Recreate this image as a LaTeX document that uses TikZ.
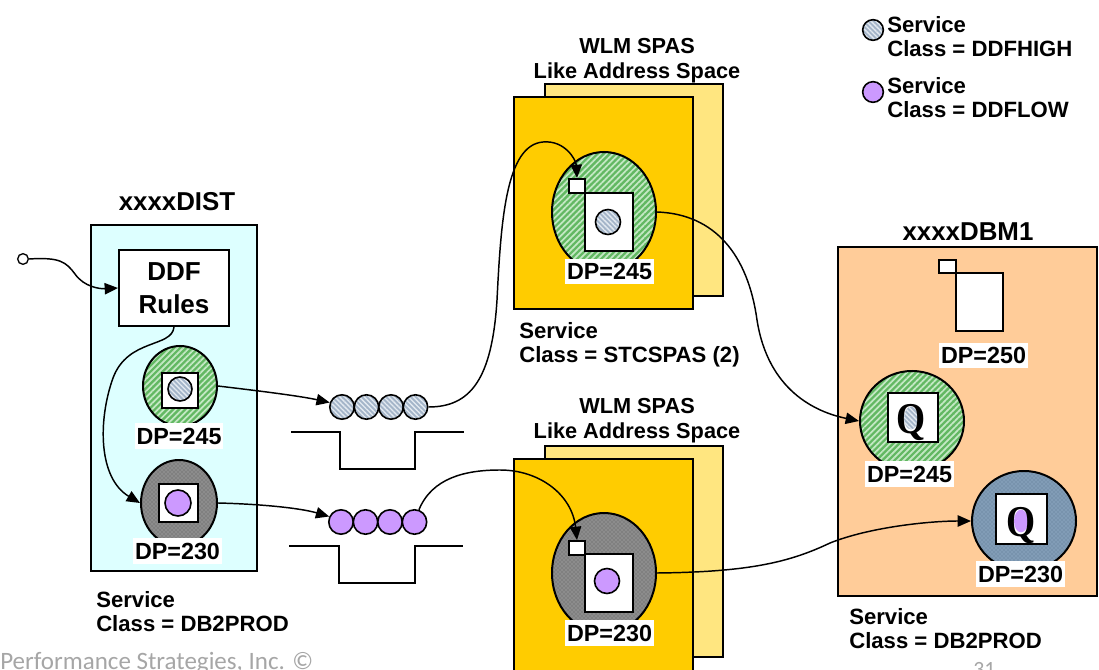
\documentclass[tikz,border=0pt]{standalone}
\usepackage{fontspec}
\setmainfont{Liberation Sans}
\newfontfamily\qfont{Liberation Serif}
\newfontfamily\footfont{Carlito}
\usetikzlibrary{shapes.geometric,arrows.meta,patterns,patterns.meta}

\definecolor{distcyan}{HTML}{DDFFFF}
\definecolor{spasfront}{HTML}{FFCC00}
\definecolor{spasback}{HTML}{FFE680}
\definecolor{dbmpeach}{HTML}{FFCC99}
\definecolor{lowpurple}{HTML}{CC99FF}
\definecolor{hatchgreen}{HTML}{62B862}
\definecolor{hatchgreenlt}{HTML}{C4E8C4}
\definecolor{highblue}{HTML}{A4B5C9}
\definecolor{highbluelt}{HTML}{E4EAF1}
\definecolor{dotgray}{HTML}{8C8C8C}
\definecolor{dotgraydk}{HTML}{5A5A5A}
\definecolor{dotblue}{HTML}{819CB6}
\definecolor{dotbluedk}{HTML}{5C7690}
\definecolor{footgray}{HTML}{A6A6A6}

\tikzset{
  frame/.style={draw, line width=1.5pt},
  sq/.style={draw, line width=1.5pt, fill=white, shape=rectangle, inner sep=0pt},
  ell/.style={draw, line width=1.5pt, shape=ellipse, inner sep=0pt},
  dot/.style={draw, line width=1.2pt, shape=circle, inner sep=0pt},
  greenhatch/.style={preaction={fill=hatchgreen},
    pattern={Lines[angle=45,distance=3.2pt,line width=1.3pt]}, pattern color=hatchgreenlt},
  bluehatch/.style={preaction={fill=highblue},
    pattern={Lines[angle=-45,distance=2.6pt,line width=1pt]}, pattern color=highbluelt},
  graydots/.style={preaction={fill=dotgray}, pattern=crosshatch dots, pattern color=dotgraydk},
  bluedots/.style={preaction={fill=dotblue}, pattern=crosshatch dots, pattern color=dotbluedk},
  hdr/.style={font=\bfseries\fontsize{19.4}{22}\selectfont, inner sep=0pt},
  lbl/.style={font=\bfseries\fontsize{16.6}{18.4}\selectfont, align=left, inner sep=0pt, anchor=north west},
  spastitle/.style={font=\bfseries\fontsize{16.3}{18.75}\selectfont, align=center, inner sep=0pt, anchor=north},
  dp/.style={fill=white, inner xsep=1.5pt, inner ysep=3.5pt, font=\bfseries\fontsize{17.5}{20}\selectfont},
  qglyph/.style={font=\qfont\bfseries\fontsize{33}{33}\selectfont, inner sep=0pt, anchor=base},
  conn/.style={line width=1.1pt, -{Triangle[length=10pt,width=8.5pt]}},
  small/.style={sq, minimum width=12pt, minimum height=10.5pt}
}

\begin{document}
\begin{tikzpicture}[x=0.75pt,y=-0.75pt]
\useasboundingbox (0,0) rectangle (1099,670);
\fill[white] (0,0) rectangle (1099,670);

% legend
\node[dot, bluehatch, minimum size=15.5pt] (keyhigh) at (873,30) {};
\node[lbl] (keyhight) at (887,16) {Service\\Class = DDFHIGH};
\node[dot, fill=lowpurple, minimum size=15.5pt] (keylow) at (873,92) {};
\node[lbl] (keylowt) at (887,77) {Service\\Class = DDFLOW};

% xxxxDIST address space
\node[hdr] (distT) at (177,202) {xxxxDIST};
\draw[frame, fill=distcyan] (91,225) rectangle (257,571);
\node[sq, minimum width=82.5pt, minimum height=57pt, align=center,
      font=\bfseries\fontsize{19.5}{24.75}\selectfont] (rules) at (174,288) {DDF\\Rules};
\node[dot, fill=white, minimum size=8pt, line width=1pt] (src) at (23,259) {};

\node[ell, greenhatch, minimum width=55.5pt, minimum height=60pt] (dhigh) at (180,386) {};
\node[sq, minimum width=27pt, minimum height=26.25pt] (dhighsq) at (180,390) {};
\node[dot, bluehatch, minimum size=18pt] (dhighdot) at (180,389) {};
\node[dp] (dhighdp) at (179,436) {DP=245};

\node[ell, graydots, minimum width=57pt, minimum height=64.5pt] (dlow) at (179,503) {};
\node[sq, minimum width=29.25pt, minimum height=28.5pt] (dlowsq) at (178.5,503) {};
\node[dot, fill=lowpurple, minimum size=19.5pt] (dlowdot) at (178,503) {};
\node[dp] (dlowdp) at (177.5,551) {DP=230};

\node[lbl] (dclass) at (96,591) {Service\\Class = DB2PROD};

% queues
\foreach \i/\x in {1/342,2/366.5,3/391,4/415.5}
  \node[dot, bluehatch, minimum size=18.3pt] (qa\i) at (\x,407) {};
\foreach \i/\x in {1/341,2/365.5,3/390,4/414.5}
  \node[dot, fill=lowpurple, minimum size=18.3pt] (qb\i) at (\x,522) {};
\draw[frame] (291,432) -- (340,432) -- (340,469) -- (415,469) -- (415,432) -- (464,432);
\draw[frame] (289,546) -- (339,546) -- (339,583) -- (415,583) -- (415,546) -- (463,546);

% upper WLM SPAS
\node[spastitle] (stitleA) at (637,38) {WLM SPAS\\Like Address Space};
\draw[frame, fill=spasback] (545,84) rectangle (723,296);
\draw[frame, fill=spasfront] (514,97) rectangle (693,309);
\node[ell, greenhatch, minimum width=78pt, minimum height=90pt] (shigh) at (604,212) {};
\node[sq, minimum width=36pt, minimum height=43.5pt] (shighsq) at (609,222) {};
\node[small] (shighin) at (577,186) {};
\node[dot, bluehatch, minimum size=18.75pt] (shighdot) at (608,222) {};
\node[dp] (shighdp) at (609.5,271.5) {DP=245};
\node[lbl] (sclassA) at (519,322) {Service\\Class = STCSPAS (2)};

% lower WLM SPAS
\node[spastitle] (stitleB) at (637,398) {WLM SPAS\\Like Address Space};
\draw[frame, fill=spasback] (545,446) rectangle (723,657);
\draw[frame, fill=spasfront] (514,459) rectangle (693,700);
\node[ell, graydots, minimum width=78pt, minimum height=90pt] (slow) at (604,573) {};
\node[sq, minimum width=36pt, minimum height=43.5pt] (slowsq) at (609,583) {};
\node[small] (slowin) at (577,548) {};
\node[dot, fill=lowpurple, minimum size=18.75pt] (slowdot) at (607,581) {};
\node[dp] (slowdp) at (609.5,633) {DP=230};

% xxxxDBM1 address space
\node[hdr] (dbmT) at (968,232) {xxxxDBM1};
\draw[frame, fill=dbmpeach] (838,247) rectangle (1097,596);
\node[sq, minimum width=35.25pt, minimum height=43.5pt] (pagesq) at (979.5,302) {};
\node[sq, minimum width=12.75pt, minimum height=9.75pt] (pagein) at (947.5,266.5) {};
\node[dp] (pagedp) at (983.5,355.5) {DP=250};

\node[ell, greenhatch, minimum width=78pt, minimum height=75pt] (bhigh) at (912,421) {};
\node[sq, minimum width=37.5pt, minimum height=36.75pt] (bhighsq) at (913,417.5) {};
\node[ell, bluehatch, draw=none, minimum width=10.5pt, minimum height=17pt] (bhighctr) at (911,418) {};
\node[qglyph] (bhighq) at (911,433) {\scalebox{0.85}[1]{Q}};
\node[dp] (bhighdp) at (909.5,474) {DP=245};

\node[ell, bluedots, minimum width=78pt, minimum height=75pt] (blow) at (1024,521) {};
\node[sq, minimum width=38.25pt, minimum height=37.5pt] (blowsq) at (1021.5,519) {};
\node[ell, fill=lowpurple, draw=none, minimum width=10.5pt, minimum height=17pt] (blowctr) at (1021,521) {};
\node[qglyph] (blowq) at (1021,536) {\scalebox{0.85}[1]{Q}};
\node[dp] (blowdp) at (1020.5,574) {DP=230};

\node[lbl] (bclass) at (849,608) {Service\\Class = DB2PROD};

% connectors
\draw[conn] (src.east) .. controls (60,257) and (66,262) .. (75,274)
            .. controls (84,287) and (100,289) .. (rules.west);
\draw[conn] (rules.south) .. controls (172,348) and (128,338) .. (113,378)
            .. controls (98,420) and (98,478) .. (dlow.west);
\draw[conn] (dhigh.east) .. controls (260,391) and (300,396) .. (qa1.160);
\draw[conn] (dlow.east) .. controls (260,504) and (300,508) .. (qb1.155);
\draw[conn] (qa4.east) .. controls (470,407) and (492,380) .. (497,300)
            .. controls (501,220) and (506,145) .. (543,142)
            .. controls (565,140) and (576,160) .. (shighin.north);
\draw[conn] (qb4.70) .. controls (432,478) and (465,470) .. (500,470)
            .. controls (540,470) and (572,495) .. (slowin.north);
\draw[conn] (shigh.east) .. controls (715,214) and (748,255) .. (757,320)
            .. controls (768,390) and (815,412) .. (bhigh.west);
\draw[conn] (slow.east) .. controls (750,572) and (790,562) .. (830,543)
            .. controls (870,527) and (930,521) .. (blow.west);

% footer
\node[font=\footfont\fontsize{18.75}{20}\selectfont, text=footgray, anchor=base west, inner sep=0pt] (foot) at (0,669) {Performance Strategies, Inc. ©};
\node[font=\footfont\fontsize{16.3}{18}\selectfont, text=footgray, anchor=base west, inner sep=0pt] (pageno) at (973,676) {31};
\end{tikzpicture}
\end{document}
